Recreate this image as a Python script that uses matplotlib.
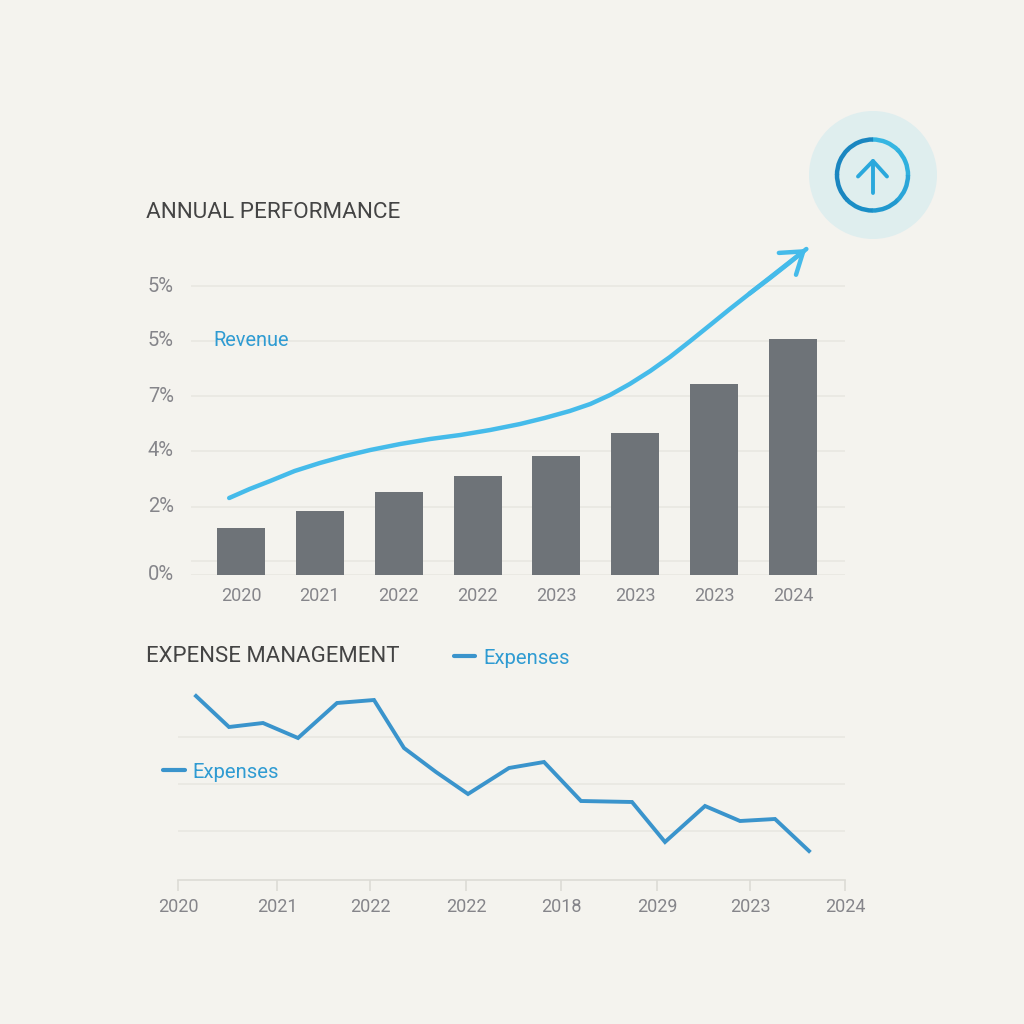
import matplotlib
matplotlib.use("Agg")
import matplotlib.pyplot as plt
from matplotlib.patches import Circle, Arc

# Data (heights are in axis units, roughly pixels)
bar_labels = ["2020", "2021", "2022", "2022", "2023", "2023", "2023", "2024"]
bar_values = [46.5, 63.5, 82.5, 98.5, 118.5, 141.5, 190.5, 235.5]
y_ticks = [0, 67.5, 123.5, 178.5, 233.5, 288.5]
y_labels = ["0%", "2%", "4%", "7%", "5%", "5%"]
extra_grid = 13.5

rev_x = [-0.15, 0.11, 0.37, 0.68, 1.0, 1.32, 1.64, 2.02, 2.40, 2.78, 3.16, 3.54, 3.85,
         4.17, 4.43, 4.68, 4.93, 5.19, 5.44, 5.69, 5.95, 6.20, 6.45, 6.71, 6.96, 7.17]
rev_y = [76.5, 85.5, 93.5, 103.5, 111.5, 118.5, 124.5, 130.5, 135.5, 139.5, 144.5, 150.5, 156.5,
         163.5, 170.5, 179.5, 190.5, 203.5, 217.5, 233, 249.5, 265.5, 281, 296.5, 312, 325.5]

exp_x = [18, 51, 85, 120, 159, 196, 226, 258, 290, 331, 366, 403, 454, 487, 527, 562, 597, 631]
exp_y = [184, 153, 157, 142, 177, 180, 132, 108, 86, 112, 118, 79, 78, 38, 74, 59, 61, 29]
exp_ticks = [0, 99, 192, 288, 383, 479, 572, 667]
exp_labels = ["2020", "2021", "2022", "2022", "2018", "2029", "2023", "2024"]
exp_grid = [49, 96, 143]

BG = "#f4f3ee"
GRID = "#e8e7e1"
TICK = "#85858a"
DARK = "#444444"
BLUE = "#3a94cc"
LABEL_BLUE = "#2f9bd2"
SKY = "#45bbea"
BAR = "#6e7378"

plt.rcParams["font.family"] = ["Roboto", "DejaVu Sans"]
S = 1024


def axes_px(left, right, top, bottom):
    return fig.add_axes([left / S, 1 - bottom / S, (right - left) / S, (bottom - top) / S])


fig = plt.figure(figsize=(10.24, 10.24), dpi=100, facecolor=BG)

# top chart
ax = axes_px(178, 845, 250, 574.5)
ax.set_facecolor("none")
ax.set_xlim(-0.799, 7.66)
ax.set_ylim(0, 324.5)
for v in y_ticks + [extra_grid]:
    ax.hlines(v, -0.636, 7.66, color=GRID, lw=1.2, zorder=1)
ax.bar(range(len(bar_values)), bar_values, width=0.61, color=BAR, zorder=2)
ax.plot(rev_x, rev_y, color=SKY, lw=3.2, solid_capstyle="round", clip_on=False, zorder=3)
# head only, aimed along the straight end of the curve
ax.annotate("", xy=(rev_x[-1], rev_y[-1]), xytext=(rev_x[-4], rev_y[-4]),
            arrowprops=dict(arrowstyle="->,head_length=1.45,head_width=1.0", color=SKY, lw=3.2,
                            shrinkA=0, shrinkB=0), annotation_clip=False, zorder=3)
ax.set_xticks(range(len(bar_labels)), bar_labels)
ax.set_yticks(y_ticks, y_labels)
ax.tick_params(length=0, labelcolor=TICK, labelsize=13)
ax.tick_params(axis="x", pad=9)
ax.tick_params(axis="y", pad=3, labelsize=14.5)
for lab in ax.get_yticklabels():
    lab.set_verticalalignment("center")
for s in ax.spines.values():
    s.set_visible(False)

# bottom chart
ax2 = axes_px(178, 845, 660, 880)
ax2.set_facecolor("none")
ax2.set_xlim(0, 667)
ax2.set_ylim(0, 220)
for v in exp_grid:
    ax2.axhline(v, color=GRID, lw=1.2, zorder=1)
ax2.plot(exp_x, exp_y, color=BLUE, lw=2.8, solid_joinstyle="miter", zorder=3)
ax2.set_xticks(exp_ticks, exp_labels)
ax2.set_yticks([])
ax2.tick_params(axis="x", length=8, width=1.2, color="#dcdbd5", labelcolor=TICK, labelsize=13, pad=5)
for k, s in ax2.spines.items():
    s.set_visible(k == "bottom")
ax2.spines["bottom"].set_color("#dcdbd5")
ax2.spines["bottom"].set_linewidth(1.2)

# overlay for titles, inline labels and the icon
ov = fig.add_axes([0, 0, 1, 1], facecolor="none")
ov.set_xlim(0, S)
ov.set_ylim(S, 0)
ov.axis("off")
ov.text(146, 212, "ANNUAL PERFORMANCE", fontsize=16.2, color=DARK, va="center")
ov.text(146, 656, "EXPENSE MANAGEMENT", fontsize=15.95, color=DARK, va="center")
ov.text(213, 341, "Revenue", fontsize=14.4, color=LABEL_BLUE, va="center")
ov.text(483, 658, "Expenses", fontsize=14.6, color=LABEL_BLUE, va="center")
ov.text(192, 772, "Expenses", fontsize=14.6, color=LABEL_BLUE, va="center")
ov.plot([454, 475], [656, 656], color=BLUE, lw=3, solid_capstyle="round")
ov.plot([163, 185], [770, 770], color=BLUE, lw=3, solid_capstyle="round")

ov.add_patch(Circle((873, 175), 64, color="#dfeeee", lw=0))
# ring colours, going round from the top clockwise
ring_colours = ["#36b6e2", "#2fb0de", "#2aa5d8", "#2199cf", "#1a8ec6", "#1a86c0", "#1a86c0", "#1a86c0"]
for i, c in enumerate(ring_colours):
    # y axis is inverted here, so arc angles run clockwise on screen starting at -90 = top
    ov.add_patch(Arc((872.5, 175), 71, 71, theta1=-90 + 45 * i, theta2=-90 + 45 * (i + 1) + 1, color=c, lw=3.2))
ov.plot([873, 873], [193, 161], color="#2aa8dc", lw=2.8, solid_capstyle="round")
ov.plot([858, 873, 887], [176.5, 161, 176.5], color="#2aa8dc", lw=2.8,
        solid_capstyle="round", solid_joinstyle="round")

fig.savefig("out.png", dpi=100, facecolor=BG)
